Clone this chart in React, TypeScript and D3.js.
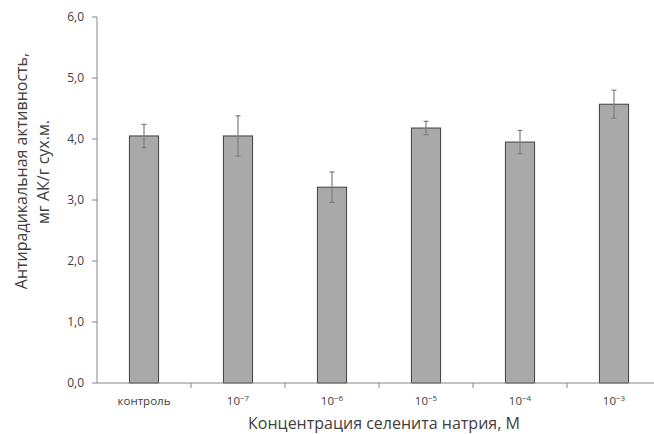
import React from "react";
import * as d3 from "d3";

const categories = ["контроль", "10^-7", "10^-6", "10^-5", "10^-4", "10^-3"];
const values = [4.05, 4.05, 3.21, 4.18, 3.95, 4.57];
const errors = [0.19, 0.33, 0.25, 0.11, 0.19, 0.23];
const yTicks = [0, 1, 2, 3, 4, 5, 6];
const yTitle1 = "Антирадикальная активность,";
const yTitle2 = "мг АК/г сух.м.";
const xTitle = "Концентрация селенита натрия, М";

const W = 654;
const H = 434;
const FONT = "'Open Sans', 'Noto Sans', sans-serif";

export default function App() {
  const x = d3.scaleBand<string>().domain(categories).range([97, 661]).paddingInner(0.69).paddingOuter(0.345);
  const y = d3.scaleLinear().domain([0, 6]).range([383, 17]);
  const step = x.step();
  const fmt = (v: number) => v.toFixed(1).replace(".", ",");

  const renderCat = (c: string) => {
    if (c.startsWith("10^")) {
      const exp = c.slice(3).replace("-", "−");
      return (
        <>
          <tspan>10</tspan>
          <tspan dy={-4.5} fontSize={8}>{exp}</tspan>
        </>
      );
    }
    return c;
  };

  return (
    <svg width={W} height={H} style={{ position: "absolute", left: 0, top: 0, background: "#fff" }}>
      {/* bars */}
      {categories.map((c, i) => (
        <rect
          key={c}
          x={x(c)!}
          y={y(values[i])}
          width={x.bandwidth()}
          height={y(0) - y(values[i])}
          fill="#a9a9a9"
          stroke="#404040"
          strokeWidth={1}
        />
      ))}
      {/* error bars */}
      {categories.map((c, i) => {
        const cx = x(c)! + x.bandwidth() / 2;
        return (
          <g key={"e" + c} stroke="#7f7f7f" strokeWidth={1.2}>
            <line x1={cx} x2={cx} y1={y(values[i] + errors[i])} y2={y(values[i] - errors[i])} />
            <line x1={cx - 2.5} x2={cx + 2.5} y1={y(values[i] + errors[i])} y2={y(values[i] + errors[i])} />
            <line x1={cx - 2.5} x2={cx + 2.5} y1={y(values[i] - errors[i])} y2={y(values[i] - errors[i])} />
          </g>
        );
      })}
      {/* y axis */}
      <line x1={97} x2={97} y1={y(6)} y2={y(0)} stroke="#868686" strokeWidth={1} />
      {yTicks.map((t) => (
        <g key={t}>
          <line x1={92} x2={97} y1={y(t)} y2={y(t)} stroke="#868686" strokeWidth={1} />
          <text x={84} y={y(t)} dy="0.35em" textAnchor="end" fontSize={12} fill="#404040" fontFamily={FONT}>
            {fmt(t)}
          </text>
        </g>
      ))}
      {/* x axis */}
      <line x1={97} x2={W} y1={y(0)} y2={y(0)} stroke="#868686" strokeWidth={1} />
      {categories.map((c, i) => (
        <line key={"t" + c} x1={97 + step * (i + 1)} x2={97 + step * (i + 1)} y1={y(0)} y2={y(0) + 5} stroke="#868686" strokeWidth={1} />
      ))}
      {categories.map((c) => (
        <text key={"l" + c} x={x(c)! + x.bandwidth() / 2} y={405} textAnchor="middle" fontSize={11.5} fill="#404040" fontFamily={FONT}>
          {renderCat(c)}
        </text>
      ))}
      {/* titles */}
      <text x={384} y={429} textAnchor="middle" fontSize={16} fill="#404040" fontFamily={FONT}>
        {xTitle}
      </text>
      <text transform="translate(27,171) rotate(-90)" textAnchor="middle" fontSize={16} fill="#404040" fontFamily={FONT}>
        {yTitle1}
      </text>
      <text transform="translate(49,172) rotate(-90)" textAnchor="middle" fontSize={16} fill="#404040" fontFamily={FONT}>
        {yTitle2}
      </text>
    </svg>
  );
}
